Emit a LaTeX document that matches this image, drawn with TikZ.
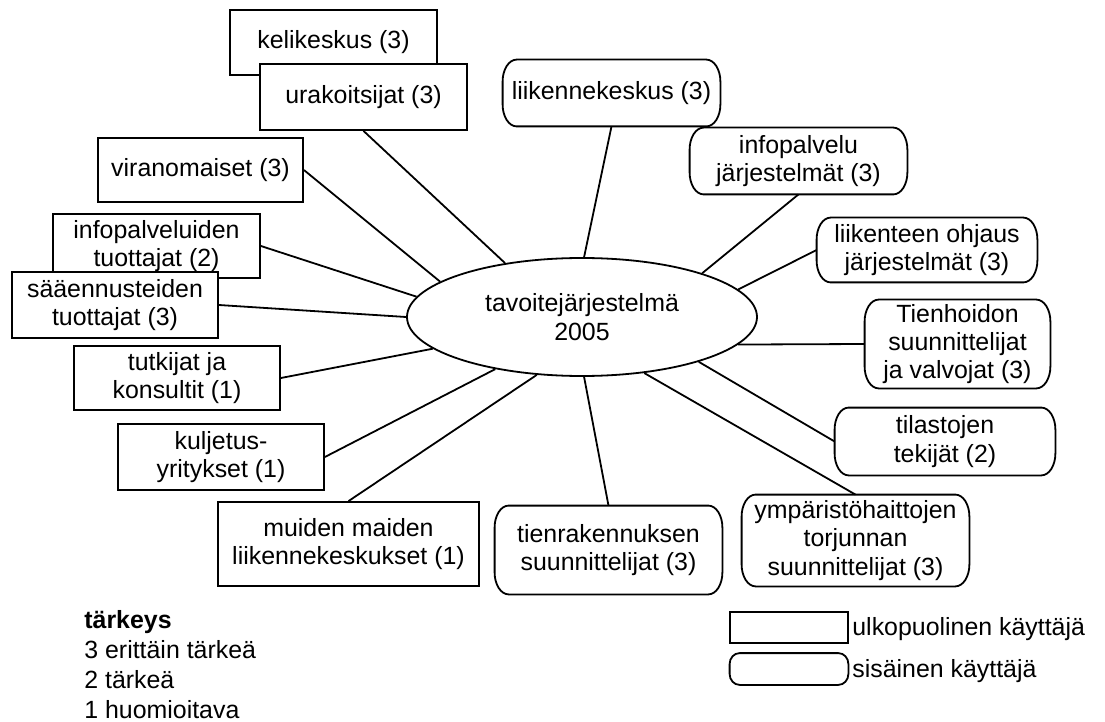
\documentclass[tikz,border=0pt]{standalone}
\usepackage{fontspec}
\setmainfont{Liberation Sans}
\usetikzlibrary{shapes.geometric}
\newcommand\intframe[3]{%
  \draw[line width=0.9pt, line join=round]
    ([xshift=#2]#1.north west) -- ([xshift=-#2]#1.north east)
    arc[start angle=90, end angle=0, x radius=#2, y radius=#3]
    -- ([yshift=#3]#1.south east)
    arc[start angle=0, end angle=-90, x radius=#2, y radius=#3]
    -- ([xshift=#2]#1.south west)
    arc[start angle=270, end angle=180, x radius=#2, y radius=#3]
    -- ([yshift=-#3]#1.north west)
    arc[start angle=180, end angle=90, x radius=#2, y radius=#3] -- cycle;}
\begin{document}
\begin{tikzpicture}[x=0.5pt,y=-0.5pt,
  every node/.style={font=\fontsize{12.45}{14.2}\selectfont, align=center, inner sep=0pt},
  ext/.style={draw, line width=0.9pt, fill=white},
  int/.style={},
  conn/.style={line width=0.9pt},
  lbl/.style={anchor=base west}]
\useasboundingbox (0,0) rectangle (1105,722);
% external users
\node[ext, minimum width=103.5pt, minimum height=32.5pt] (keli) at (333.5,42.5) {kelikeskus (3)};
\node[ext, minimum width=103.5pt, minimum height=33pt] (ura) at (363.5,97) {urakoitsijat (3)};
\node[ext, minimum width=102.5pt, minimum height=32pt] (vir) at (200.5,170) {viranomaiset (3)};
\node[ext, minimum width=103.5pt, minimum height=32pt] (infoT) at (156.5,246) {infopalveluiden\\tuottajat (2)};
\node[ext, minimum width=103pt, minimum height=33pt] (saa) at (115,305) {sääennusteiden\\tuottajat (3)};
\node[ext, minimum width=103pt, minimum height=32pt] (tut) at (177,378) {tutkijat ja\\konsultit (1)};
\node[ext, minimum width=103pt, minimum height=33pt] (kul) at (221,457) {kuljetus-\\yritykset (1)};
\node[ext, minimum width=130.5pt, minimum height=42pt] (mui) at (348.5,544) {muiden maiden\\liikennekeskukset (1)};
% internal users
\node[int, minimum width=113.5pt, minimum height=44pt] (tie) at (608.5,550) {tienrakennuksen\\suunnittelijat (3)};
\node[int, minimum width=113.5pt, minimum height=45.5pt] (ymp) at (855.5,540.5) {ympäristöhaittojen\\torjunnan\\suunnittelijat (3)};
\node[int, minimum width=110pt, minimum height=33.5pt] (til) at (945,441.5) {tilastojen\\tekijät (2)};
\node[int, minimum width=92.5pt, minimum height=44pt] (tienh) at (957.5,344) {Tienhoidon\\suunnittelijat\\ja valvojat (3)};
\node[int, minimum width=110pt, minimum height=32pt] (liiO) at (927,250) {liikenteen ohjaus\\järjestelmät (3)};
\node[int, minimum width=108.5pt, minimum height=33pt] (infoJ) at (798.5,161) {infopalvelu\\järjestelmät (3)};
\node[int, minimum width=108.5pt, minimum height=33pt] (liik) at (611.5,93) {liikennekeskus (3)};
\intframe{tie}{7pt}{11pt}
\intframe{ymp}{7pt}{11pt}
\intframe{til}{7pt}{11pt}
\intframe{tienh}{7pt}{11pt}
\intframe{liiO}{7pt}{11pt}
\intframe{infoJ}{7pt}{11pt}
\intframe{liik}{7pt}{11pt}
% centre
\node[draw, ellipse, line width=0.9pt, fill=white, minimum width=175pt, minimum height=59pt] (ell) at (582,317) {tavoitejärjestelmä\\2005};
% connectors
\draw[conn] (ura.south) -- (ell.145.6);
\draw[conn] (vir.east) -- (ell.166.8);
\draw[conn] (infoT.east) -- (ell.173.1);
\draw[conn] (saa.east) -- (ell.180.7);
\draw[conn] (tut.east) -- (ell.192.7);
\draw[conn] (kul.east) -- (ell.211.9);
\draw[conn] (mui.north) -- (ell.232.8);
\draw[conn] (tie.north) -- (ell.272.9);
\draw[conn] (ymp.north) -- (ell.318.4);
\draw[conn] (til.west) -- (ell.339.1);
\draw[conn] (tienh.west) -- (ell.350.8);
\draw[conn] (liiO.west) -- (ell.10.4);
\draw[conn] (infoJ.south) -- (ell.20.8);
\draw[conn] (liik.south) -- (ell.88);
% legend
\node[lbl] (lg0) at (84,628) {\bfseries tärkeys};
\node[lbl] (lg3) at (84,658) {3 erittäin tärkeä};
\node[lbl] (lg2) at (84,688) {2 tärkeä};
\node[lbl] (lg1) at (84,718) {1 huomioitava};
\node[ext, minimum width=59pt, minimum height=15.5pt] (lrect) at (789,627.5) {};
\node[int, minimum width=59pt, minimum height=15.5pt] (lround) at (789,669) {};
\intframe{lround}{5pt}{5.5pt}
\node[lbl] (lrectT) at (852,635) {ulkopuolinen käyttäjä};
\node[lbl] (lroundT) at (852,677) {sisäinen käyttäjä};
\end{tikzpicture}
\end{document}
